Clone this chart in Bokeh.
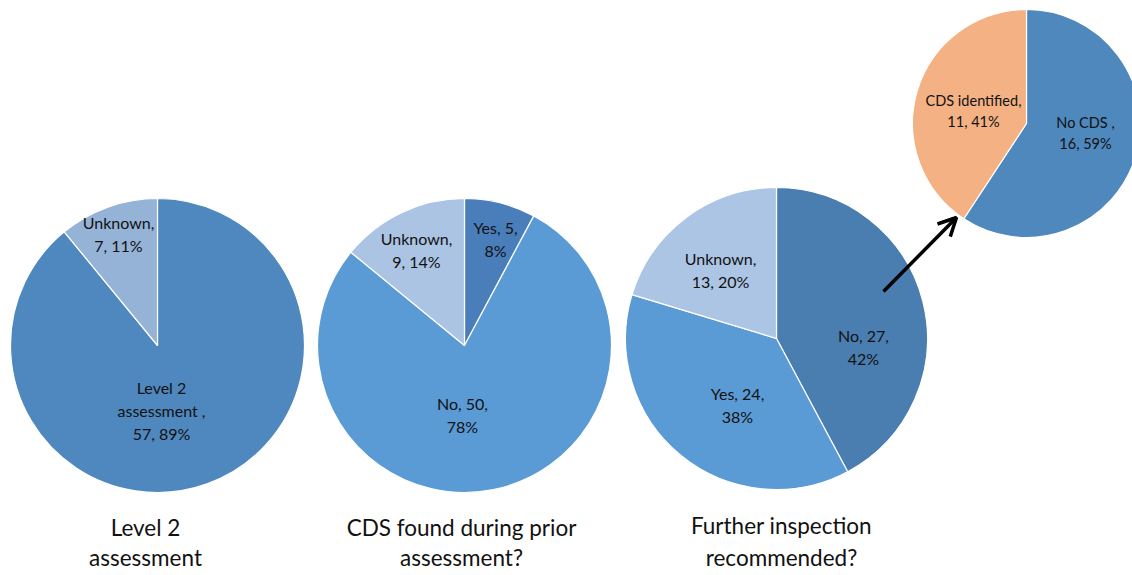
import math
from bokeh.plotting import figure
from bokeh.models import Range1d, Arrow, OpenHead
from bokeh.core.properties import value
from bokeh.embed import file_html
from bokeh.resources import INLINE

W, H = 1132, 575
FONT = "Lato"

# ---- data ----
level2_labels = ["Level 2 assessment ", "Unknown"]
level2_values = [57, 7]
level2_pcts = ["89%", "11%"]

prior_labels = ["Yes", "No", "Unknown"]
prior_values = [5, 50, 9]
prior_pcts = ["8%", "78%", "14%"]

further_labels = ["No", "Yes", "Unknown"]
further_values = [27, 24, 13]
further_pcts = ["42%", "38%", "20%"]

cds_labels = ["No CDS ", "CDS identified"]
cds_values = [16, 11]
cds_pcts = ["59%", "41%"]

titles = [["Level 2", "assessment"],
          ["CDS found during prior", "assessment?"],
          ["Further inspection", "recommended?"]]

# ---- layout (pixel positions, y measured from top) ----
pies = [
    dict(cx=157, cy=345, r=147, vals=level2_values,
         colors=["#4F88BE", "#95B3D7"],
         lines=[["Level 2", "assessment ,", "57, 89%"], ["Unknown,", "7, 11%"]],
         pos=[(161, 387), (118, 222)], fs=16, lh=23),
    dict(cx=464, cy=345, r=147, vals=prior_values,
         colors=["#4A7EBB", "#5B9BD5", "#ABC4E4"],
         lines=[["Yes, 5,", "8%"], ["No, 50,", "78%"], ["Unknown,", "9, 14%"]],
         pos=[(495, 227), (462, 403), (416, 238)], fs=16, lh=23),
    dict(cx=776, cy=338, r=151, vals=further_values,
         colors=["#4A7EB0", "#5B9BD5", "#ADC5E5"],
         lines=[["No, 27,", "42%"], ["Yes, 24,", "38%"], ["Unknown,", "13, 20%"]],
         pos=[(863, 335), (737, 393), (720, 258)], fs=16, lh=23),
    dict(cx=1026, cy=123, r=114, vals=cds_values,
         colors=["#4F88BD", "#F4B183"],
         lines=[["No CDS ,", "16, 59%"], ["CDS identified,", "11, 41%"]],
         pos=[(1085, 122), (973, 100)], fs=14.5, lh=21),
]
title_pos = [(145, 527, 557), (461, 527, 557), (781, 525, 557)]

p = figure(width=W, height=H, output_backend="svg", toolbar_location=None,
           x_range=Range1d(0, W), y_range=Range1d(0, H), min_border=0)
p.axis.visible = False
p.grid.visible = False
p.outline_line_color = None
p.background_fill_color = "white"

for pie in pies:
    vals = pie["vals"]
    total = float(sum(vals))
    cum = 0.0
    starts, ends = [], []
    for v in vals:
        starts.append(math.pi / 2 - 2 * math.pi * cum / total)
        cum += v
        ends.append(math.pi / 2 - 2 * math.pi * cum / total)
    n = len(vals)
    p.wedge(x=[pie["cx"]] * n, y=[H - pie["cy"]] * n, radius=pie["r"],
            start_angle=starts, end_angle=ends, direction="clock",
            fill_color=pie["colors"], line_color="white", line_width=1.2)
    for lines, (lx, ly) in zip(pie["lines"], pie["pos"]):
        k = len(lines)
        ys = [H - (ly + i * pie["lh"]) for i in range(k)]
        p.text(x=[lx] * k, y=ys, text=lines, text_align="center",
               text_baseline="middle", text_font=value(FONT),
               text_font_size=f"{pie['fs']}px", text_color="#111111")

for t, (tx, ty1, ty2) in zip(titles, title_pos):
    p.text(x=[tx, tx], y=[H - ty1, H - ty2], text=t, text_align="center",
           text_baseline="middle", text_font=value(FONT),
           text_font_size="22.5px", text_color="#111111")

p.add_layout(Arrow(end=OpenHead(size=18, line_width=3.5, line_color="black"),
                   x_start=883, y_start=H - 291, x_end=956, y_end=H - 217,
                   line_width=3.5, line_color="black"))

open("out.html", "w").write(file_html(p, INLINE))
